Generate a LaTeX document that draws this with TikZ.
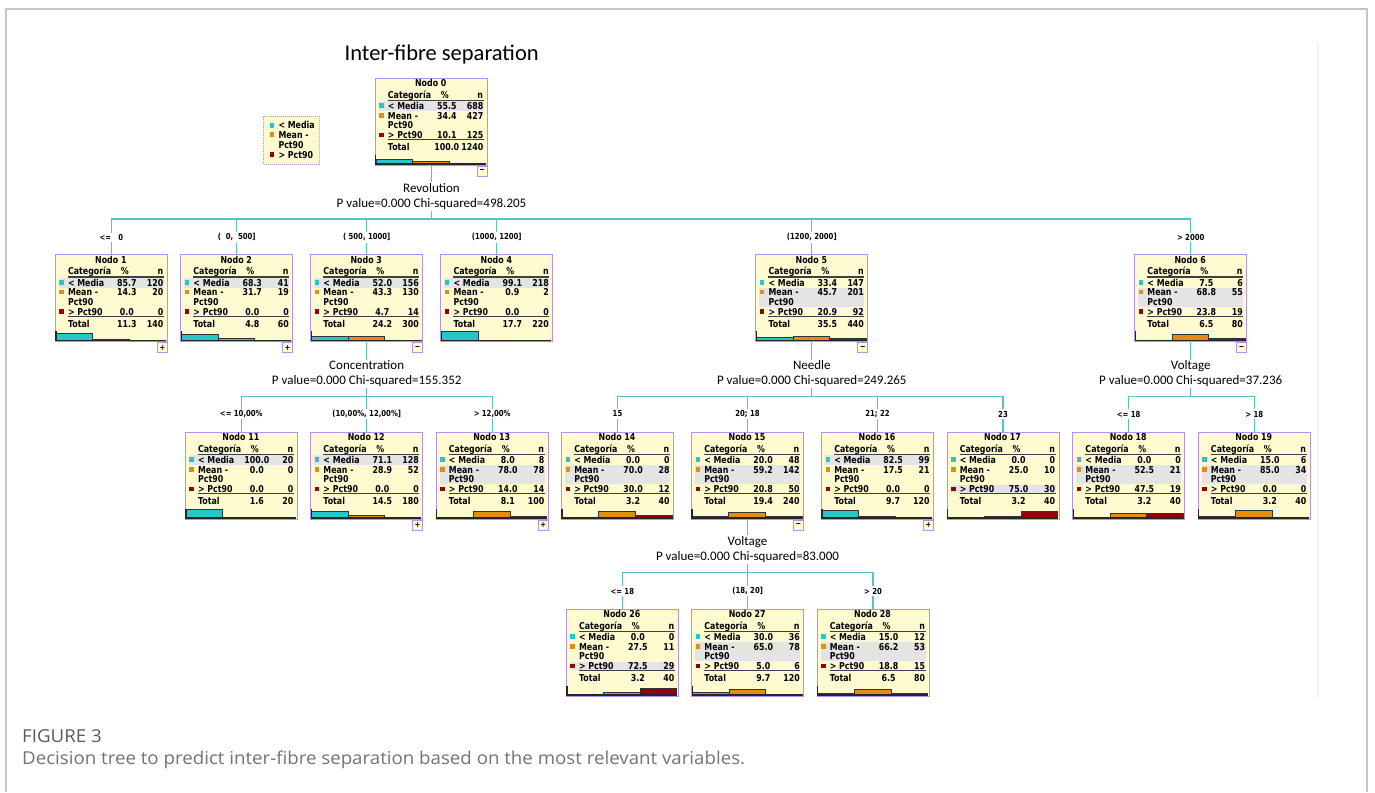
\documentclass[tikz,border=0pt]{standalone}
\usepackage{fontspec}
\setmainfont{Carlito}
\newfontfamily\tahoma[FakeStretch=0.83]{DejaVu Sans}
\newfontfamily\capfont[FakeStretch=1.05]{Open Sans}
\usetikzlibrary{calc}

\definecolor{boxfill}{RGB}{255,251,208}
\definecolor{boxline}{RGB}{182,146,236}
\definecolor{linkc}{RGB}{84,196,196}
\definecolor{cat0}{RGB}{36,200,204}
\definecolor{cat1}{RGB}{226,140,16}
\definecolor{cat2}{RGB}{150,0,8}
\definecolor{modal}{RGB}{228,228,228}
\definecolor{capgray}{RGB}{90,90,90}

\newcommand{\cellfont}{\tahoma\bfseries\fontsize{9.5}{10}\selectfont}

\tikzset{
  catbox/.style={draw=boxline, fill=boxfill, line width=0.9, minimum width=112,
                 minimum height=87, inner sep=0, anchor=north},
  cell/.style={inner sep=0, font=\cellfont},
  toggle/.style={draw=boxline, fill=boxfill, line width=0.9, minimum size=10,
                 inner sep=0, anchor=north east, font=\tahoma\bfseries\fontsize{8}{8}\selectfont},
  rule/.style={black!75, line width=1.1},
  bar/.style={draw=black!80, line width=0.5},
  axis/.style={black!85, line width=1.3},
  link/.style={draw=linkc, line width=1.1},
  split/.style={fill=white, align=center, inner sep=1,
                font=\fontsize{13}{15}\selectfont},
  cond/.style={fill=white, inner sep=1.5, font=\tahoma\bfseries\fontsize{8.3}{9}\selectfont}
}

% #1 name, #2 x, #3 top, #4 number, #5 p1/n1/p2/n2/p3/n3/total/n, #6 modal row
\newcommand{\catnode}[6]{%
  \node[catbox] (#1) at (#2,#3) {};
  \begin{scope}[shift={(#1.north west)}]
    \ifcase#6\or
      \fill[modal] (4,23.6) rectangle (109,33.2);
    \or
      \fill[modal] (4,33.4) rectangle (109,52.6);
    \or
      \fill[modal] (4,52.8) rectangle (109,61.4);
    \fi
    \node[cell,anchor=base] (#1-id) at (56,9) {Nodo #4};
    \node[cell,anchor=base west] (#1-cat) at (13,20.6) {Categoría};
    \node[cell,anchor=base] (#1-pc) at (70,20.6) {\%};
    \node[cell,anchor=base east] (#1-nc) at (108.5,20.6) {n};
    \draw[rule] (13,22.7) -- (109,22.7);
    \draw[rule] (13,62) -- (109,62);
    \foreach \y/\c in {28.3/cat0,38.1/cat1,57.4/cat2}
      \fill[\c] (4.5,\y-2.6) rectangle ++(4.5,4.5);
    \node[cell,anchor=base west] (#1-la) at (13,31.7) {< Media};
    \node[cell,anchor=base west] (#1-lb) at (13,41.5) {Mean -};
    \node[cell,anchor=base west] (#1-lbb) at (13,51) {Pct90};
    \node[cell,anchor=base west] (#1-lc) at (13,60.8) {> Pct90};
    \node[cell,anchor=base west] (#1-lt) at (13,72.8) {Total};
    \foreach \pA/\nA/\pB/\nB/\pC/\nC/\pT/\nT in {#5} {
      \foreach \p/\n/\y [count=\ix from 0] in {\pA/\nA/31.7,\pB/\nB/41.5,\pC/\nC/60.8,\pT/\nT/72.8} {
        \node[cell,anchor=base] (#1-p\ix) at (72,\y) {\p};
        \node[cell,anchor=base east] (#1-n\ix) at (108.8,\y) {\n};
      }
      % bars
      \foreach \p [count=\ix from 0] in {\pA,\pB,\pC}
        \draw[bar,fill=cat\ix] (1+\ix*36.6,86.3) rectangle (37.6+\ix*36.6,{86.3-\p*0.09});
    }
    \draw[axis] (1,77) -- (1,86.3) -- (111,86.3);
  \end{scope}
}

\begin{document}
\begin{tikzpicture}[x=1pt,y=-1pt]
  \useasboundingbox (0,0) rectangle (1375,792);

  % --- page frame ----------------------------------------------------
  \draw[gray!45, line width=1.2] (6,792) -- (6,9) -- (1367,9) -- (1367,792);
  \draw[gray!8, line width=1.5] (1318,42) -- (1318,698);

  % --- title and legend ----------------------------------------------
  \node[anchor=base, font=\fontsize{22.5}{26}\selectfont] (title) at (441.7,60)
       {Inter-fibre separation};

  \node[draw=boxline, dash pattern=on 1pt off 1pt, fill=boxfill, minimum width=56,
        minimum height=48.6, inner sep=0, anchor=north west] (legend) at (263.3,115.7) {};
  \foreach \y/\c/\t [count=\ix] in {125.7/cat0/{< Media},135/cat1/{Mean -},155/cat2/{> Pct90}}
  {
    \fill[\c] (269.5,\y-2.6) rectangle ++(4.5,4.5);
    \node[cell,anchor=base west] (leg\ix) at (278.3,\y+3.2) {\t};
  }
  \node[cell,anchor=base west] (leg4) at (278.3,148.2) {Pct90};

  % --- level 0 and 1 -------------------------------------------------
  \catnode{n0}{431.2}{77.7}{0}{55.5/688/34.4/427/10.1/125/100.0/1240}{1}
  \catnode{n1}{111.3}{254.3}{1}{85.7/120/14.3/20/0.0/0/11.3/140}{1}
  \catnode{n2}{236.7}{254.3}{2}{68.3/41/31.7/19/0.0/0/4.8/60}{1}
  \catnode{n3}{366.7}{254.3}{3}{52.0/156/43.3/130/4.7/14/24.2/300}{1}
  \catnode{n4}{496.8}{254.3}{4}{99.1/218/0.9/2/0.0/0/17.7/220}{1}
  \catnode{n5}{811.8}{254.3}{5}{33.4/147/45.7/201/20.9/92/35.5/440}{2}
  \catnode{n6}{1190.7}{254.3}{6}{7.5/6/68.8/55/23.8/19/6.5/80}{2}

  % --- level 2 -------------------------------------------------------
  \catnode{n11}{241.3}{431.7}{11}{100.0/20/0.0/0/0.0/0/1.6/20}{1}
  \catnode{n12}{366.7}{431.7}{12}{71.1/128/28.9/52/0.0/0/14.5/180}{1}
  \catnode{n13}{492.2}{431.7}{13}{8.0/8/78.0/78/14.0/14/8.1/100}{2}
  \catnode{n14}{617.5}{431.7}{14}{0.0/0/70.0/28/30.0/12/3.2/40}{2}
  \catnode{n15}{747.5}{431.7}{15}{20.0/48/59.2/142/20.8/50/19.4/240}{2}
  \catnode{n16}{877.5}{431.7}{16}{82.5/99/17.5/21/0.0/0/9.7/120}{1}
  \catnode{n17}{1003}{431.7}{17}{0.0/0/25.0/10/75.0/30/3.2/40}{3}
  \catnode{n18}{1128.7}{431.7}{18}{0.0/0/52.5/21/47.5/19/3.2/40}{2}
  \catnode{n19}{1254.2}{431.7}{19}{15.0/6/85.0/34/0.0/0/3.2/40}{2}

  % --- level 3 -------------------------------------------------------
  \catnode{n26}{622.3}{608.7}{26}{0.0/0/27.5/11/72.5/29/3.2/40}{3}
  \catnode{n27}{747.7}{608.7}{27}{30.0/36/65.0/78/5.0/6/9.7/120}{2}
  \catnode{n28}{873}{608.7}{28}{15.0/12/66.2/53/18.8/15/6.5/80}{2}

  % --- expand / collapse buttons -------------------------------------
  \foreach \b in {n0,n3,n5,n6,n15}
    \node[toggle] (\b-tog) at (\b.south east) {−};
  \foreach \b in {n1,n2,n12,n13,n16}
    \node[toggle] (\b-tog) at (\b.south east) {+};

  % --- connectors ----------------------------------------------------
  \coordinate (s0) at (431.2,219);
  \coordinate (s3) at (366.7,396.7);
  \coordinate (s5) at (811.8,396.7);
  \coordinate (s6) at (1190.7,396.2);
  \coordinate (s15) at (747.5,572.7);

  \foreach \c in {n1,n2,n3,n4,n5,n6}
    \draw[link] (n0.south) -- (n0.south |- s0) -| (\c.north);
  \foreach \c in {n11,n12,n13}
    \draw[link] (n3.south) -- (n3.south |- s3) -| (\c.north);
  \foreach \c in {n14,n15,n16,n17}
    \draw[link] (n5.south) -- (n5.south |- s5) -| (\c.north);
  \foreach \c in {n18,n19}
    \draw[link] (n6.south) -- (n6.south |- s6) -| (\c.north);
  \foreach \c in {n26,n27,n28}
    \draw[link] (n15.south) -- (n15.south |- s15) -| (\c.north);

  % --- split variables -----------------------------------------------
  \node[split] (q0) at (431.5,196.5) {Revolution\\P value=0.000 Chi-squared=498.205};
  \node[split] (q3) at (366.7,374) {Concentration\\P value=0.000 Chi-squared=155.352};
  \node[split] (q5) at (811.8,374) {Needle\\P value=0.000 Chi-squared=249.265};
  \node[split] (q6) at (1190.7,374) {Voltage\\P value=0.000 Chi-squared=37.236};
  \node[split] (q15) at (747.5,549.5) {Voltage\\P value=0.000 Chi-squared=83.000};

  % --- split conditions ----------------------------------------------
  \node[cond] (c1) at (111.3,237.3) {<=\ \ \ 0};
  \node[cond] (c2) at (236.7,237.3) {(\ \ 0,\ \ 500]};
  \node[cond] (c3) at (366.7,237.3) {(\ 500, 1000]};
  \node[cond] (c4) at (496.8,237.3) {(1000, 1200]};
  \node[cond] (c5) at (811.8,237.3) {(1200, 2000]};
  \node[cond] (c6) at (1190.7,237.3) {> 2000};

  \node[cond] (c11) at (241.3,414) {<= 10,00\%};
  \node[cond] (c12) at (366.7,414) {(10,00\%, 12,00\%]};
  \node[cond] (c13) at (492.2,414) {> 12,00\%};
  \node[cond] (c14) at (617.5,414) {15};
  \node[cond] (c15) at (747.5,414) {20; 18};
  \node[cond] (c16) at (877.5,414) {21; 22};
  \node[cond] (c17) at (1003,414) {23};
  \node[cond] (c18) at (1128.7,414) {<= 18};
  \node[cond] (c19) at (1254.2,414) {> 18};

  \node[cond] (c26) at (622.3,591) {<= 18};
  \node[cond] (c27) at (747.7,591) {(18, 20]};
  \node[cond] (c28) at (873,591) {> 20};

  % --- caption -------------------------------------------------------
  \node[anchor=base west, inner sep=0, text=capgray, font=\capfont\fontsize{17.8}{20}\selectfont]
       (fig) at (22,742) {FIGURE 3};
  \node[anchor=base west, inner sep=0, text=capgray!85, font=\capfont\fontsize{17.8}{20}\selectfont]
       (desc) at (22,764) {Decision tree to predict inter-fibre separation based on the most relevant variables.};

\end{tikzpicture}
\end{document}
